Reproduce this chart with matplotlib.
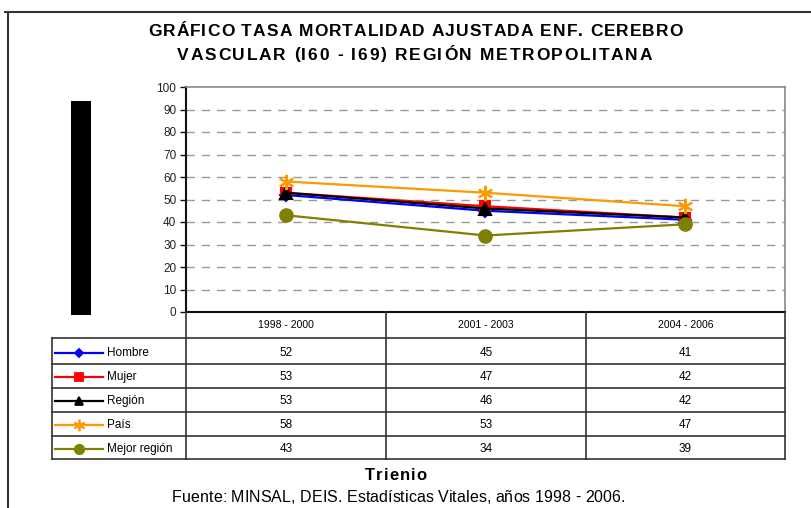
import matplotlib
matplotlib.use("Agg")
import matplotlib.pyplot as plt
from matplotlib.lines import Line2D
from matplotlib.patches import Rectangle
from matplotlib.font_manager import FontProperties
from matplotlib.textpath import TextToPath

plt.rcParams['font.family'] = ['Liberation Sans', 'DejaVu Sans']

# ---- data ----
periods = ["1998 - 2000", "2001 - 2003", "2004 - 2006"]
series_names = ["Hombre", "Mujer", "Región", "País", "Mejor región"]
hombre = [52, 45, 41]
mujer = [53, 47, 42]
region = [53, 46, 42]
pais = [58, 53, 47]
mejor_region = [43, 34, 39]
series_values = [hombre, mujer, region, pais, mejor_region]
y_ticks = [0, 10, 20, 30, 40, 50, 60, 70, 80, 90, 100]

title_line1 = "GRÁFICO TASA MORTALIDAD AJUSTADA ENF. CEREBRO"
title_line2 = "VASCULAR (I60 - I69) REGIÓN METROPOLITANA"
x_title = "Trienio"
source = "Fuente: MINSAL, DEIS. Estadísticas Vitales, años 1998 - 2006."

colors = ["#0000FF", "#FF0000", "#000000", "#FF9900", "#808000"]
markers = ["D", "s", "^", (6, 2, 0), "o"]
msizes = [6, 7, 8, 11, 9]

W, H = 812, 508
DPI = 100
fig = plt.figure(figsize=(W / DPI, H / DPI), dpi=DPI)


def fx(x):
    return x / W


def fy(y):
    return 1 - y / H


_t2p = TextToPath()


def char_w(c, prop):
    w, h, d = _t2p.get_text_width_height_descent(c, prop, ismath=False)
    return w * DPI / 72.0


def spaced_text(xl, xr, y, s, size, weight="normal"):
    """Place characters of s spread evenly between xl and xr (pixel coords)."""
    prop = FontProperties(family="Liberation Sans", size=size, weight=weight)
    widths = [char_w(c, prop) if c != " " else char_w("a a", prop) - 2 * char_w("a", prop)
              for c in s]
    natural = sum(widths)
    gap = (xr - xl - natural) / max(len(s) - 1, 1)
    x = xl
    for c, w in zip(s, widths):
        if c != " ":
            fig.text(fx(x), fy(y), c, ha="left", va="center", fontproperties=prop)
        x += w + gap


# plot area in pixels
PX0, PX1, PY0, PY1 = 186, 785, 87, 312
ax = fig.add_axes([fx(PX0), fy(PY1), fx(PX1) - fx(PX0), fy(PY0) - fy(PY1)])
xs = list(range(len(periods)))
for vals, c, m, ms in zip(series_values, colors, markers, msizes):
    ax.plot(xs, vals, color=c, lw=1.6, marker=m, markersize=ms,
            markeredgecolor=c, markerfacecolor=c, markeredgewidth=1.5, zorder=3)

ax.set_xlim(-0.5, len(periods) - 0.5)
ax.set_ylim(0, 100)
ax.set_yticks(y_ticks)
ax.set_yticklabels([str(v) for v in y_ticks], fontsize=8.5, color="#222222")
ax.set_xticks([])
for v in y_ticks[1:-1]:
    ax.axhline(v, color="#999999", lw=1, ls=(0, (6, 5)), zorder=1)
ax.spines['left'].set_color("#111111")
ax.spines['left'].set_linewidth(1.5)
ax.spines['bottom'].set_color("#111111")
ax.spines['bottom'].set_linewidth(1.5)
ax.spines['top'].set_color("#888888")
ax.spines['top'].set_linewidth(1.2)
ax.spines['right'].set_color("#888888")
ax.spines['right'].set_linewidth(1.2)
ax.tick_params(axis='y', length=4, width=1, color="#111111", pad=3)

# ---- outer border ----
fig.add_artist(Line2D([fx(5), fx(812)], [fy(12), fy(12)], color="#333333", lw=1.5))
fig.add_artist(Line2D([fx(8), fx(8)], [fy(12), fy(508)], color="#333333", lw=1.5))

# ---- redaction bar ----
fig.add_artist(Rectangle((fx(71), fy(315)), fx(91) - fx(71), fy(101) - fy(315),
                         color="black", lw=0))

# ---- title ----
spaced_text(148, 683, 32, title_line1, 12.5, "bold")
spaced_text(177, 652, 55, title_line2, 12.5, "bold")

# ---- data table ----
col_edges = [186, 386, 586, 785]
row_lines = [338, 364, 388, 412, 436, 459]
row_centers = [353, 377, 401, 425, 449]
line_col = "#333333"
for x in col_edges:
    fig.add_artist(Line2D([fx(x), fx(x)], [fy(312), fy(459)], color=line_col, lw=1.2))
fig.add_artist(Line2D([fx(52), fx(52)], [fy(338), fy(459)], color=line_col, lw=1.2))
for y in row_lines:
    fig.add_artist(Line2D([fx(52), fx(785)], [fy(y), fy(y)], color=line_col, lw=1.2))

for i, p in enumerate(periods):
    cx = (col_edges[i] + col_edges[i + 1]) / 2
    fig.text(fx(cx), fy(325), p, ha="center", va="center", fontsize=7.5)

for r, (name, vals, c, m, ms) in enumerate(zip(series_names, series_values, colors, markers, msizes)):
    yc = row_centers[r]
    fig.add_artist(Line2D([fx(55), fx(103)], [fy(yc), fy(yc)], color=c, lw=1.6))
    fig.add_artist(Line2D([fx(79)], [fy(yc)], color=c, marker=m,
                          markersize=ms * 0.75, markerfacecolor=c, markeredgecolor=c,
                          markeredgewidth=1.3, lw=0))
    fig.text(fx(107), fy(yc), name, ha="left", va="center", fontsize=8.5)
    for i, v in enumerate(vals):
        cx = (col_edges[i] + col_edges[i + 1]) / 2
        fig.text(fx(cx), fy(yc), str(v), ha="center", va="center", fontsize=8.5)

# ---- axis title and source ----
spaced_text(365, 427, 475, x_title, 12, "bold")
spaced_text(172, 625, 497, source, 11.5, "normal")

fig.savefig("out.png", dpi=DPI)
